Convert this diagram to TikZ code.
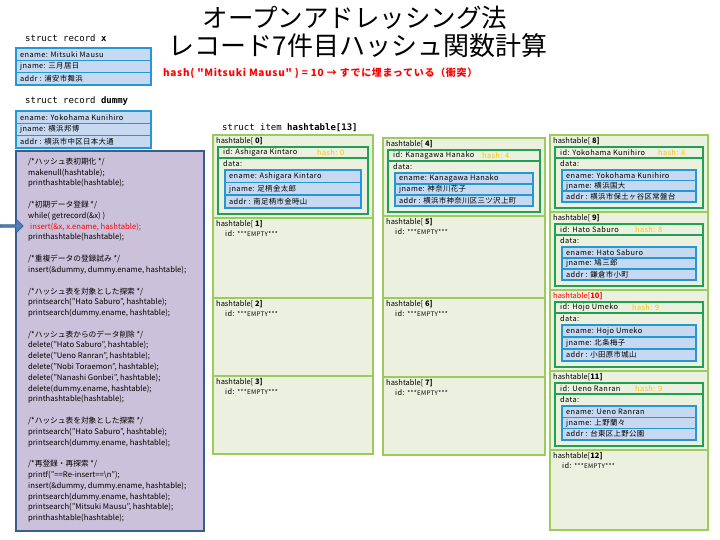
\documentclass[tikz,border=0pt]{standalone}
\usepackage{fontspec}
\setmainfont{Noto Sans CJK JP}
\newfontfamily\monof{DejaVu Sans Mono}
\newfontfamily\wtxt[LetterSpace=5]{Noto Sans CJK JP}
\newfontfamily\wred[LetterSpace=7]{Noto Sans CJK JP}
\usetikzlibrary{shapes.arrows}
\definecolor{lgreen}{HTML}{9BCB5B}
\definecolor{cellfill}{HTML}{EBF1DE}
\definecolor{dgreen}{HTML}{1FA055}
\definecolor{bblue}{HTML}{2398D6}
\definecolor{rowblue}{HTML}{C6D9F1}
\definecolor{lav}{HTML}{CCC1DA}
\definecolor{navy}{HTML}{3A5E8C}
\definecolor{hashy}{HTML}{FFC000}
\definecolor{arrowblue}{HTML}{4F81BD}
\tikzset{
 cell/.style={draw=lgreen, line width=2.5pt, fill=cellfill, anchor=north west, inner sep=0pt, outer sep=0pt},
 frame/.style={draw=dgreen, line width=2.5pt, fill=cellfill, anchor=north west, inner sep=0pt, outer sep=0pt},
 bluebox/.style={fill=bblue, anchor=north west, inner sep=0pt, outer sep=0pt},
 rowbox/.style={fill=rowblue, anchor=north west, inner sep=0pt, outer sep=0pt},
 txt/.style={anchor=west, inner sep=0pt, font=\wtxt\fontsize{7.4}{8}\selectfont},
 lbl/.style={anchor=west, inner sep=0pt, font=\fontsize{7.5}{8}\selectfont},
 code/.style={anchor=west, inner sep=0pt, font=\fontsize{7.7}{8}\selectfont},
 monolbl/.style={anchor=west, inner sep=0pt, font=\monof\fontsize{9}{10}\selectfont},
 codebox/.style={draw=navy, line width=2pt, fill=lav, anchor=north west, inner sep=0pt},
}
\newcommand\bluerec[8]{%
 \pgfmathsetmacro\brW{#4-4}%
 \pgfmathsetmacro\brH{(#5-7)/3}%
 \node[bluebox, minimum width=#4pt, minimum height=#5pt] (#1) at (#2,#3) {};
 \node[rowbox, minimum width=\brW pt, minimum height=\brH pt] (#1e) at (#2+2,#3+2) {};
 \node[rowbox, minimum width=\brW pt, minimum height=\brH pt] (#1j) at (#2+2,#3+3.5+\brH) {};
 \node[rowbox, minimum width=\brW pt, minimum height=\brH pt] (#1a) at (#2+2,#3+5+2*\brH) {};
 \node[txt] (#1et) at ([xshift=3pt]#1e.west) {#6};
 \node[txt] (#1jt) at ([xshift=3pt]#1j.west) {#7};
 \node[txt] (#1at) at ([xshift=3pt]#1a.west) {#8};
}
\newcommand\fullentry[8]{%
 \pgfmathsetmacro\eFW{\eW-10}%
 \pgfmathsetmacro\eDH{\eH-27}%
 \pgfmathsetmacro\eBW{\eW-22}%
 \pgfmathsetmacro\eBH{\eH-43}%
 \node[cell, minimum width=\eW pt, minimum height=\eH pt] (h#1) at (\eX,\eY) {};
 \node[lbl] (h#1l) at (\eX+3,\eY+6.5) {#2};
 \node[frame, minimum width=\eFW pt, minimum height=11pt] (h#1i) at (\eX+5,\eY+12) {};
 \node[frame, minimum width=\eFW pt, minimum height=\eDH pt] (h#1d) at (\eX+5,\eY+23) {};
 \node[txt] (h#1it) at (\eX+10,\eY+17.5) {#3};
 \node[txt, text=hashy] (h#1h) at (\eX+#4,\eY+17.5) {#5};
 \node[txt] (h#1dt) at (\eX+10,\eY+28.5) {data:};
 \bluerec{h#1b}{\eX+11}{\eY+34}{\eBW}{\eBH}{#6}{#7}{#8}
}
\newcommand\emptyentry[2]{%
 \node[cell, minimum width=\eW pt, minimum height=\eH pt] (h#1) at (\eX,\eY) {};
 \node[lbl] (h#1l) at (\eX+3,\eY+6.5) {#2};
 \node[txt] (h#1it) at (\eX+12,\eY+16) {id: {\fontsize{6.3}{7}\selectfont ***EMPTY***}};
}
\newcommand\cl[2]{\node[code] (cl#1) at (28,{162+10.8*#1}) {#2};}
\begin{document}
\begin{tikzpicture}[x=1pt,y=-1pt]
\useasboundingbox (0,0) rectangle (720,540);
% title
\node[inner sep=0pt, font=\fontsize{25.5}{30}\selectfont] (t1) at (355,18) {オープンアドレッシング法};
\node[inner sep=0pt, font=\fontsize{26}{30}\selectfont] (t2) at (358,46) {レコード7件目ハッシュ関数計算};
\node[anchor=west, inner sep=0pt, text=red, font=\wred\bfseries\fontsize{10}{11}\selectfont] (t3) at (163,73) {hash( "Mitsuki Mausu" ) = 10 → すでに埋まっている（衝突）};
% struct record x
\node[monolbl] (sx) at (25,38) {struct record \textbf{x}};
\bluerec{rx}{15}{47}{137}{39}{ename: Mitsuki Mausu}{jname: 三月居日}{addr : 浦安市舞浜}
% struct record dummy
\node[monolbl] (sd) at (25,101) {struct record \textbf{dummy}};
\bluerec{rd}{15}{110}{137}{39}{ename: Yokohama Kunihiro}{jname: 横浜邦博}{addr : 横浜市中区日本大通}
% code box
\node[codebox, minimum width=188pt, minimum height=380pt] (cb) at (15,150) {};
\cl{0}{/*ハッシュ表初期化 */}
\cl{1}{makenull(hashtable);}
\cl{2}{printhashtable(hashtable);}
\cl{4}{/*初期データ登録 */}
\cl{5}{while( getrecord(\&x) )}
\cl{6}{\hspace{2pt}\textcolor{red}{insert(\&x, x.ename, hashtable);}}
\cl{7}{printhashtable(hashtable);}
\cl{9}{/*重複データの登録試み */}
\cl{10}{insert(\&dummy, dummy.ename, hashtable);}
\cl{12}{/*ハッシュ表を対象とした探索 */}
\cl{13}{printsearch("Hato Saburo", hashtable);}
\cl{14}{printsearch(dummy.ename, hashtable);}
\cl{16}{/*ハッシュ表からのデータ削除 */}
\cl{17}{delete("Hato Saburo", hashtable);}
\cl{18}{delete("Ueno Ranran", hashtable);}
\cl{19}{delete("Nobi Toraemon", hashtable);}
\cl{20}{delete("Nanashi Gonbei", hashtable);}
\cl{21}{delete(dummy.ename, hashtable);}
\cl{22}{printhashtable(hashtable);}
\cl{24}{/*ハッシュ表を対象とした探索 */}
\cl{25}{printsearch("Hato Saburo", hashtable);}
\cl{26}{printsearch(dummy.ename, hashtable);}
\cl{28}{/*再登録・再探索 */}
\cl{29}{printf("==Re-insert==\textbackslash n");}
\cl{30}{insert(\&dummy, dummy.ename, hashtable);}
\cl{31}{printsearch(dummy.ename, hashtable);}
\cl{32}{printsearch("Mitsuki Mausu", hashtable);}
\cl{33}{printhashtable(hashtable);}
% arrow
\node[single arrow, fill=arrowblue, draw=navy, line width=0.8pt, minimum height=23pt, minimum width=14pt, single arrow head extend=2pt, inner sep=0pt] (arr) at (11,226) {};
% struct item label
\node[monolbl] (si) at (222,128) {struct item \textbf{hashtable[13]}};
% column 1
\def\eX{213}\def\eW{160}
\def\eY{135}\def\eH{83}
\fullentry{0}{hashtable[ \textbf{0]}}{id: Ashigara Kintaro}{104}{hash: 0}{ename: Ashigara Kintaro}{jname: 足柄金太郎}{addr : 南足柄市金時山}
\def\eY{218}\def\eH{80}
\emptyentry{1}{hashtable[ \textbf{1]}}
\def\eY{298}\def\eH{78}
\emptyentry{2}{hashtable[ \textbf{2]}}
\def\eY{376}\def\eH{78}
\emptyentry{3}{hashtable[ \textbf{3]}}
% column 2
\def\eX{383}\def\eW{162}
\def\eY{138}\def\eH{78}
\fullentry{4}{hashtable[ \textbf{4]}}{id: Kanagawa Hanako}{99}{hash: 4}{ename: Kanagawa Hanako}{jname: 神奈川花子}{addr : 横浜市神奈川区三ツ沢上町}
\def\eY{216}\def\eH{82}
\emptyentry{5}{hashtable[ \textbf{5]}}
\def\eY{298}\def\eH{79}
\emptyentry{6}{hashtable[ \textbf{6]}}
\def\eY{377}\def\eH{78}
\emptyentry{7}{hashtable[ \textbf{7]}}
% column 3
\def\eX{550}\def\eW{158}
\def\eY{135}\def\eH{77}
\fullentry{8}{hashtable[ \textbf{8]}}{id: Yokohama Kunihiro}{108}{hash: 8}{ename: Yokohama Kunihiro}{jname: 横浜国大}{addr : 横浜市保土ヶ谷区常盤台}
\def\eY{212}\def\eH{78}
\fullentry{9}{hashtable[ \textbf{9]}}{id: Hato Saburo}{85}{hash: 8}{ename: Hato Saburo}{jname: 鳩三郎}{addr : 鎌倉市小町}
\def\eY{290}\def\eH{81}
\fullentry{10}{\textcolor{red}{hashtable[\textbf{10]}}}{id: Hojo Umeko}{82}{hash: 9}{ename: Hojo Umeko}{jname: 北条梅子}{addr : 小田原市城山}
\def\eY{371}\def\eH{79}
\fullentry{11}{hashtable[\textbf{11]}}{id: Ueno Ranran}{85}{hash: 9}{ename: Ueno Ranran}{jname: 上野蘭々}{addr : 台東区上野公園}
\def\eY{450}\def\eH{80}
\emptyentry{12}{hashtable[\textbf{12]}}
\end{tikzpicture}
\end{document}
